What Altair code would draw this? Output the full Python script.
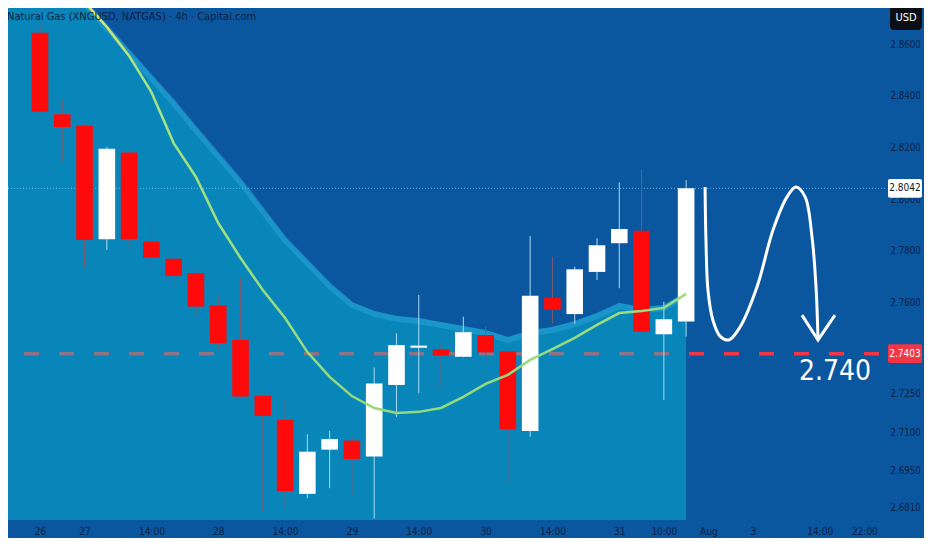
import altair as alt
import pandas as pd

# ---------------- data ----------------
# 4h candles (index = bar number, -1 is the bar cut off at the top edge)
bar_idx = list(range(-1, 30))
open_ = [2.8790, 2.8644, 2.8328, 2.8284, 2.7845, 2.8181, 2.7836, 2.7770, 2.7714, 2.7590,
         2.7456, 2.7240, 2.7148, 2.6861, 2.7032, 2.7067, 2.7005, 2.7282, 2.7426, 2.7420,
         2.7391, 2.7475, 2.7411, 2.7104, 2.7619, 2.7556, 2.7719, 2.7830, 2.7878, 2.7478, 2.7527]
high = [2.8950, 2.8681, 2.8384, 2.8293, 2.8203, 2.8185, 2.7924, 2.7795, 2.7726, 2.7630,
        2.7694, 2.7252, 2.7224, 2.7091, 2.7104, 2.7086, 2.7350, 2.7482, 2.7630, 2.7443,
        2.7546, 2.7507, 2.7413, 2.7858, 2.7778, 2.7739, 2.7849, 2.8065, 2.8113, 2.7604, 2.8074]
low = [2.8758, 2.8326, 2.8145, 2.7733, 2.7804, 2.7810, 2.7720, 2.7658, 2.7552, 2.7417,
       2.7235, 2.6792, 2.6805, 2.6844, 2.6883, 2.6857, 2.6765, 2.7159, 2.7250, 2.7272,
       2.7389, 2.7279, 2.6902, 2.7082, 2.7520, 2.7518, 2.7688, 2.7656, 2.7456, 2.7224, 2.7469]
close = [2.8900, 2.8338, 2.8279, 2.7842, 2.8195, 2.7845, 2.7774, 2.7703, 2.7585, 2.7443,
         2.7237, 2.7162, 2.6872, 2.7024, 2.7073, 2.6996, 2.7288, 2.7436, 2.7434, 2.7395,
         2.7486, 2.7408, 2.7111, 2.7627, 2.7572, 2.7729, 2.7822, 2.7885, 2.7488, 2.7536, 2.8042]

# band (upper edge of the shaded cloud) and moving average
line_idx = list(range(-2, 30))
band_upper = [2.9176, 2.9079, 2.8983, 2.8867, 2.8770, 2.8673, 2.8577, 2.8480, 2.8384, 2.8279,
              2.8179, 2.8078, 2.7966, 2.7854, 2.7765, 2.7676, 2.7603, 2.7568, 2.7549, 2.7541,
              2.7525, 2.7510, 2.7494, 2.7467, 2.7494, 2.7506, 2.7529, 2.7560, 2.7599, 2.7583,
              2.7591, 2.7641]
ma = [2.9150, 2.9060, 2.8963, 2.8855, 2.8762, 2.8666, 2.8554, 2.8414, 2.8217, 2.8086,
      2.7908, 2.7773, 2.7649, 2.7541, 2.7409, 2.7313, 2.7239, 2.7193, 2.7174, 2.7178,
      2.7193, 2.7236, 2.7286, 2.7321, 2.7379, 2.7421, 2.7464, 2.7514, 2.7560, 2.7568,
      2.7580, 2.7634]

# hand-drawn projection arrow
arrow_idx = [29.85, 29.89, 29.98, 30.20, 30.52, 30.92, 31.42, 32.18, 32.90, 33.53,
             33.93, 34.34, 34.65, 34.83, 34.92]
arrow_price = [2.8047, 2.7842, 2.7649, 2.7533, 2.7471, 2.7456, 2.7506, 2.7661, 2.7881, 2.8009,
               2.8047, 2.8009, 2.7854, 2.7661, 2.7456]
head_idx = [34.20, 34.92, 35.68]
head_price = [2.7552, 2.7456, 2.7552]

target_level = [2.7403]
last_price = [2.8042]
target_text = ["2.740"]
target_text_pos = [35.68]
target_text_price = [2.7332]

y_ticks = [2.86, 2.84, 2.82, 2.80, 2.78, 2.76, 2.725, 2.71, 2.695, 2.681]
x_tick_pos = [0, 2, 5, 8, 11, 14, 17, 20, 23, 26, 28, 30, 32, 35, 37]
x_tick_lab = ["26", "27", "14:00", "28", "14:00", "29", "14:00", "30", "14:00", "31",
              "10:00", "Aug", "3", "14:00", "22:00"]

title_text = "Natural Gas (XNGUSD, NATGAS) · 4h · Capital.com"

# ---------------- styling ----------------
BG = "#0b579f"
NARROW = "Liberation Sans Narrow, DejaVu Sans Condensed, Roboto Condensed, Roboto, sans-serif"
AXIS_TXT = "#0d1f45"

candles = pd.DataFrame({"idx": bar_idx, "open": open_, "high": high, "low": low, "close": close})
lines = pd.DataFrame({"idx": line_idx, "upper": band_upper, "ma": ma})
arrow = pd.DataFrame({"idx": arrow_idx, "price": arrow_price, "o": list(range(len(arrow_idx)))})
head = pd.DataFrame({"idx": head_idx, "price": head_price, "o": list(range(len(head_idx)))})
lvl = pd.DataFrame({"price": target_level})
lastp = pd.DataFrame({"price": last_price})
tags = pd.DataFrame({
    "price": [last_price[0], target_level[0]],
    "label": ["%.4f" % last_price[0], "%.4f" % target_level[0]],
    "fill": ["#ffffff", "#f23645"],
    "tc": ["#131722", "#ffffff"],
})
ttext = pd.DataFrame({"idx": target_text_pos, "price": target_text_price, "t": target_text})

# visible window (the page margin hides the first 8px of the original view)
xscale = alt.Scale(domain=[-1.436, 37.926], nice=False, zero=False, padding=0)
yscale = alt.Scale(domain=[2.676, 2.87392], nice=False, zero=False, padding=0)

label_expr = "[" + ",".join("'%s'" % s for s in x_tick_lab) + "][indexof([" + \
    ",".join(str(v) for v in x_tick_pos) + "], datum.value)]"

xaxis = alt.Axis(values=x_tick_pos, labelExpr=label_expr, title=None, grid=False, ticks=False,
                 domain=False, labelColor=AXIS_TXT, labelFont=NARROW, labelFontSize=10,
                 labelPadding=6, labelFlush=False, labelOverlap=False)
yaxis = alt.Axis(values=y_ticks, format=".4f", orient="right", title=None, grid=False,
                 ticks=False, domain=False, labelColor=AXIS_TXT, labelFont=NARROW,
                 labelFontSize=9.6, labelPadding=5, labelAlign="left", labelFlush=False,
                 labelOverlap=False)


def X(field):
    return alt.X(field, type="quantitative", scale=xscale, axis=xaxis)


def Y(field):
    return alt.Y(field, type="quantitative", scale=yscale, axis=yaxis)


# target dashed level (drawn under the cloud, so it is tinted inside it)
target_rule = alt.Chart(lvl).mark_rule(
    color="#f23645", strokeWidth=3.5, strokeDash=[15, 20], strokeDashOffset=-6
).encode(y=Y("price"))

band = alt.Chart(lines).mark_area(clip=True, color="#05c8e0", opacity=0.42).encode(
    x=X("idx"), y=Y("upper"), y2=alt.datum(2.676)
)
band_edge = alt.Chart(lines).mark_line(
    clip=True, color="#45bbea", opacity=0.3, strokeWidth=6, yOffset=3
).encode(x=X("idx"), y=Y("upper"))

last_rule = alt.Chart(lastp).mark_rule(
    color="#5ab4ec", strokeWidth=1, strokeDash=[1, 2]
).encode(y=Y("price"))

up = "datum.close >= datum.open"
wicks = alt.Chart(candles).mark_rule(clip=True, strokeWidth=1).encode(
    x=X("idx"), y=Y("low"), y2="high:Q",
    color=alt.condition(up, alt.value("#a9d9f2"), alt.value("#7a5a70")),
)
bodies = alt.Chart(candles).mark_bar(clip=True, width=16.6).encode(
    x=X("idx"), y=Y("open"), y2="close:Q",
    color=alt.condition(up, alt.value("#ffffff"), alt.value("#ff0a0a")),
)

ma_line = alt.Chart(lines).mark_line(
    clip=True, strokeWidth=2.5,
    stroke=alt.LinearGradient(
        gradient="linear", x1=0, y1=0, x2=0, y2=1,
        stops=[alt.GradientStop(color="#f4e24a", offset=0),
               alt.GradientStop(color="#e6e35c", offset=0.22),
               alt.GradientStop(color="#a8e384", offset=0.34),
               alt.GradientStop(color="#93da7b", offset=1)],
    ),
).encode(x=X("idx"), y=Y("ma"))

arrow_line = alt.Chart(arrow).mark_line(
    color="#ffffff", strokeWidth=3, interpolate="catmull-rom", clip=True
).encode(x=X("idx"), y=Y("price"), order="o:Q")
arrow_head = alt.Chart(head).mark_line(
    color="#ffffff", strokeWidth=3, strokeJoin="miter", clip=True
).encode(x=X("idx"), y=Y("price"), order="o:Q")

target_label = alt.Chart(ttext).mark_text(
    color="#ffffff", fontSize=28, font=NARROW, align="center", baseline="middle"
).encode(x=X("idx"), y=Y("price"), text="t:N")

# price tags on the right-hand price scale (pixel offsets relative to the plot origin)
tag_boxes = alt.Chart(tags).transform_calculate(
    top="datum.price + 0.0036", bot="datum.price - 0.0036"
).mark_rect(cornerRadius=2).encode(
    x=alt.value(880), x2=alt.value(914), y=Y("top"), y2="bot:Q",
    fill=alt.Fill("fill:N", scale=None),
)
tag_text = alt.Chart(tags).mark_text(
    fontSize=10, font=NARROW, align="center", baseline="middle"
).encode(x=alt.value(897), y=Y("price"), text="label:N", color=alt.Color("tc:N", scale=None))

misc = pd.DataFrame({"t": ["USD"]})
usd_box = alt.Chart(misc).mark_rect(cornerRadius=4, color="#0c0e15").encode(
    x=alt.value(882), x2=alt.value(914), y=alt.value(-3), y2=alt.value(22)
)
usd_text = alt.Chart(misc).mark_text(
    color="#ffffff", fontSize=11, font=NARROW, align="center", baseline="middle"
).encode(x=alt.value(898), y=alt.value(10), text="t:N")

title = alt.Chart(pd.DataFrame({"t": [title_text]})).mark_text(
    color="#0f1d3a", fontSize=11, font=NARROW, align="left", baseline="middle"
).encode(x=alt.value(-1), y=alt.value(9), text="t:N")

chart = alt.layer(
    target_rule, band, band_edge, last_rule, wicks, bodies, ma_line,
    arrow_line, arrow_head, target_label, tag_boxes, tag_text, usd_box, usd_text, title,
).properties(
    width=877, height=512,
    autosize=alt.AutoSizeParams(type="none"),
    padding={"left": 0, "top": 0, "right": 39, "bottom": 18},
    background=BG,
).configure_view(strokeWidth=0, fill=BG)

chart.save("out.html", embed_options={"renderer": "svg", "actions": False})
